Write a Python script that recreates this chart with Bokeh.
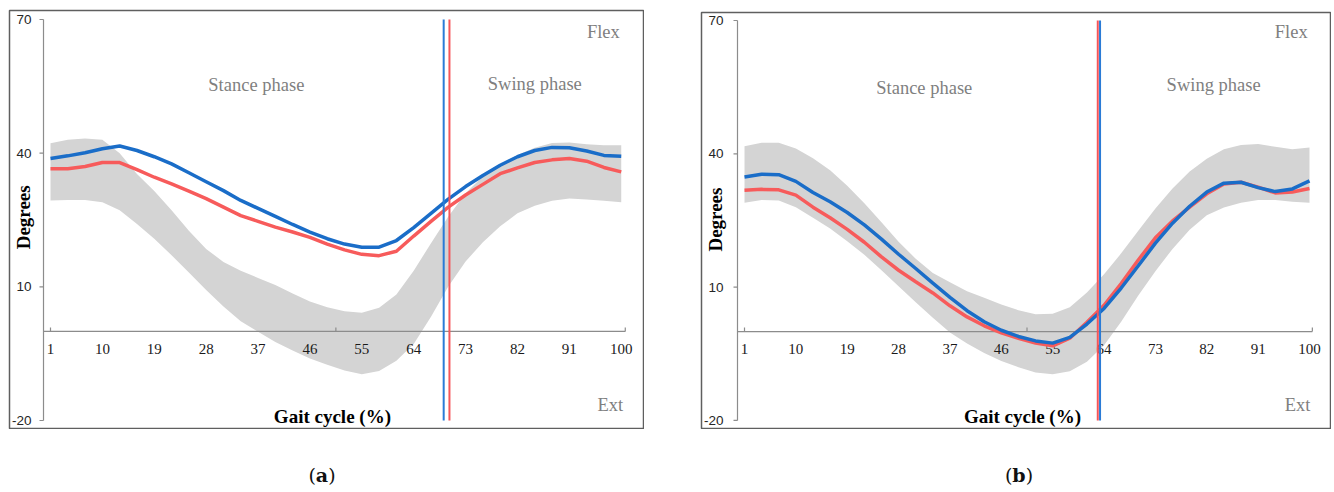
import math
from bokeh.plotting import figure
from bokeh.layouts import row, column
from bokeh.models import Range1d, Div
from bokeh.core.properties import value
from bokeh.embed import file_html
from bokeh.resources import INLINE

# ---------------- data ----------------
gait = list(range(1, 101, 3))  # gait cycle (%) sample points
xtick_values = [1, 10, 19, 28, 37, 46, 55, 64, 73, 82, 91, 100]
xtick_labels = [str(v) for v in xtick_values]
ytick_values = [-20, 10, 40, 70]
ytick_labels = [str(v) for v in ytick_values]

# panel (a)
a_blue = [38.8, 39.4, 40.1, 41.0, 41.6, 40.6, 39.2, 37.6, 35.6, 33.6, 31.6, 29.4, 27.6, 25.8, 24.0, 22.3, 20.8,
          19.6, 18.9, 18.9, 20.4, 23.3, 26.5, 29.7, 32.5, 35.0, 37.3, 39.2, 40.6, 41.3, 41.2, 40.5, 39.5, 39.3]
a_red = [36.5, 36.5, 37.0, 37.9, 37.9, 36.3, 34.6, 33.1, 31.5, 29.8, 27.9, 26.0, 24.7, 23.4, 22.3, 21.1, 19.6,
         18.3, 17.3, 17.0, 18.0, 21.4, 24.7, 27.9, 30.6, 33.0, 35.4, 36.7, 37.9, 38.5, 38.8, 38.2, 36.8, 35.8]
a_norm_upper = [42.2, 43.0, 43.3, 43.0, 40.0, 35.3, 31.5, 27.2, 22.6, 18.5, 15.6, 13.6, 12.0, 10.4, 8.5, 6.7, 5.4,
                4.5, 4.2, 5.3, 8.3, 13.6, 19.8, 25.8, 31.0, 34.8, 37.5, 39.6, 41.2, 42.3, 42.4, 42.0, 41.8, 41.8]
a_norm_lower = [29.4, 29.5, 29.5, 29.0, 27.2, 24.1, 20.8, 17.1, 13.2, 9.3, 5.6, 2.3, -0.1, -2.4, -4.3, -6.1, -7.5,
                -8.8, -9.6, -8.9, -6.6, -2.8, 3.3, 10.1, 15.7, 20.0, 23.6, 26.5, 28.2, 29.3, 29.8, 29.6, 29.3, 29.0]
a_toeoff_blue = 69.2
a_toeoff_red = 70.2

# panel (b)
b_blue = [34.8, 35.4, 35.3, 33.8, 31.3, 29.2, 26.8, 24.0, 20.8, 17.4, 14.2, 10.9, 7.7, 4.7, 2.2, 0.3, -1.1,
          -2.1, -2.6, -1.3, 1.7, 5.2, 9.8, 14.8, 19.9, 24.4, 28.2, 31.4, 33.4, 33.6, 32.4, 31.5, 32.1, 33.9]
b_red = [31.8, 32.0, 31.9, 30.7, 28.0, 25.6, 23.0, 20.1, 16.8, 13.8, 11.2, 8.7, 5.8, 3.3, 1.3, -0.3, -1.5,
         -2.6, -3.2, -1.5, 2.1, 5.9, 10.8, 16.1, 21.1, 24.9, 28.0, 31.0, 33.2, 33.6, 32.5, 31.2, 31.4, 32.2]
b_norm_upper = [41.7, 42.5, 42.5, 41.2, 39.0, 36.3, 32.8, 28.9, 24.6, 20.2, 16.4, 13.2, 11.1, 9.1, 7.6, 6.1, 4.8,
                3.9, 4.0, 5.5, 8.8, 12.9, 17.6, 22.7, 27.7, 32.2, 36.0, 38.9, 41.0, 42.0, 42.2, 41.6, 41.0, 41.4]
b_norm_lower = [29.0, 29.6, 29.5, 28.0, 25.6, 23.2, 20.3, 17.3, 13.8, 10.2, 6.6, 3.1, -0.2, -2.7, -4.8, -6.6, -8.0,
                -9.2, -9.6, -8.9, -6.8, -3.1, 2.2, 8.1, 13.6, 18.6, 22.9, 26.2, 27.9, 29.0, 29.6, 29.6, 29.2, 29.0]
b_toeoff_blue = 63.3
b_toeoff_red = 62.9

# ---------------- styles ----------------
BLUE = "#1a6dc8"
RED = "#f75b5b"
VBLUE = "#2a7bd6"
VRED = "#f5555a"
BAND = "#d4d4d4"
GREY_TXT = "#7f7f7f"
AXIS = "#8c8c8c"
SERIF = "Liberation Serif"
SANS = "Liberation Sans"


def make_panel(blue, red, upper, lower, tob, tor, width, height, mbl, mbr, mbt, mbb,
               xr, yr, yaxis_x, px_per_unit, ylab_x, txt, deg_pos, xaxis_end, vblue_on_top):
    p = figure(width=width, height=height, x_range=Range1d(*xr), y_range=Range1d(*yr),
               output_backend="svg", toolbar_location=None,
               x_axis_location=None, y_axis_location=None,
               min_border_left=mbl, min_border_right=mbr, min_border_top=mbt, min_border_bottom=mbb,
               background_fill_color="white", border_fill_color="white")
    p.outline_line_color = "#5f5f5f"
    p.outline_line_width = 1.5
    p.xgrid.visible = False
    p.ygrid.visible = False

    # normal range band
    p.varea(x=gait, y1=lower, y2=upper, fill_color=BAND)

    # vertical axis (degrees)
    tick_len = 4.0 / px_per_unit
    p.segment(x0=[yaxis_x], y0=[ytick_values[0]], x1=[yaxis_x], y1=[ytick_values[-1]],
              line_color=AXIS, line_width=1.2)
    p.segment(x0=[yaxis_x - tick_len] * len(ytick_values), y0=ytick_values,
              x1=[yaxis_x] * len(ytick_values), y1=ytick_values, line_color=AXIS, line_width=1.2)
    p.text(x=[ylab_x] * len(ytick_values), y=ytick_values, text=ytick_labels,
           text_font=value(SANS), text_font_size="13.5px", text_color="#262626",
           text_align="right", text_baseline="middle")

    # horizontal axis at 0 (gait cycle)
    p.segment(x0=[yaxis_x], y0=[0], x1=[xaxis_end], y1=[0], line_color=AXIS, line_width=1.2)
    p.segment(x0=[1, 50.5, xaxis_end], y0=[0, 0, 0], x1=[1, 50.5, xaxis_end], y1=[0.9, 0.9, 0.9],
              line_color=AXIS, line_width=1.2)
    p.text(x=xtick_values, y=[-3.9] * len(xtick_values), text=xtick_labels,
           text_font=value(SERIF), text_font_size="15px", text_color="#1a1a1a",
           text_align="center", text_baseline="middle")

    # curves
    p.line(gait, red, line_color=RED, line_width=3.5)
    p.line(gait, blue, line_color=BLUE, line_width=3.5)

    # toe-off lines
    order = [(tor, VRED), (tob, VBLUE)] if vblue_on_top else [(tob, VBLUE), (tor, VRED)]
    for xv, col in order:
        p.segment(x0=[xv], y0=[-20], x1=[xv], y1=[70], line_color=col, line_width=2)

    # annotations
    (fx, fy), (sx, sy), (wx, wy), (ex, ey), (gx, gy) = txt
    p.text(x=[fx, sx, wx, ex], y=[fy, sy, wy, ey], text=["Flex", "Stance phase", "Swing phase", "Ext"],
           text_font=value(SERIF), text_font_size="18.5px", text_color=GREY_TXT,
           text_align="center", text_baseline="middle")
    p.text(x=[gx], y=[gy], text=["Gait cycle (%)"], text_font=value(SERIF), text_font_style="bold",
           text_font_size="19px", text_color="#000000", text_align="center", text_baseline="middle")
    p.text(x=[deg_pos[0]], y=[deg_pos[1]], text=["Degrees"], angle=math.pi / 2,
           text_font=value(SERIF), text_font_style="bold", text_font_size="19px",
           text_color="#000000", text_align="center", text_baseline="middle")
    return p


pa = make_panel(a_blue, a_red, a_norm_upper, a_norm_lower, a_toeoff_blue, a_toeoff_red,
                width=636, height=421, mbl=1, mbr=1, mbt=2, mbb=1,
                xr=(-6.112, 103.86), yr=(-21.79, 72.02), yaxis_x=-0.214, px_per_unit=5.765,
                ylab_x=-2.296,
                txt=[(96.9, 67.2), (36.7, 55.4), (85.0, 55.6), (98.1, -16.6), (49.9, -19.1)],
                deg_pos=(-3.68, 25.6), xaxis_end=100.7, vblue_on_top=False)

pb = make_panel(b_blue, b_red, b_norm_upper, b_norm_lower, b_toeoff_blue, b_toeoff_red,
                width=631, height=421, mbl=1, mbr=1, mbt=4, mbb=1,
                xr=(-6.535, 103.68), yr=(-21.81, 71.8), yaxis_x=-0.227, px_per_unit=5.707,
                ylab_x=-2.68,
                txt=[(96.8, 67.3), (32.5, 54.7), (83.2, 55.4), (97.9, -16.6), (49.7, -19.1)],
                deg_pos=(-4.08, 25.2), xaxis_end=100.5, vblue_on_top=True)

cap_style = {"font-family": "DejaVu Serif", "font-size": "19px", "text-align": "center",
             "color": "#111111", "line-height": "16px"}
cap_a = Div(text="(<b>a</b>)", width=628, height=16, styles=cap_style, margin=(38, 0, 0, 0))
cap_b = Div(text="(<b>b</b>)", width=620, height=16, styles=cap_style, margin=(38, 0, 0, 9))

layout = row(column(pa, cap_a, spacing=0), column(pb, cap_b, spacing=0), spacing=56,
             margin=(8, 0, 0, 8))

open("out.html", "w").write(file_html(layout, INLINE))
